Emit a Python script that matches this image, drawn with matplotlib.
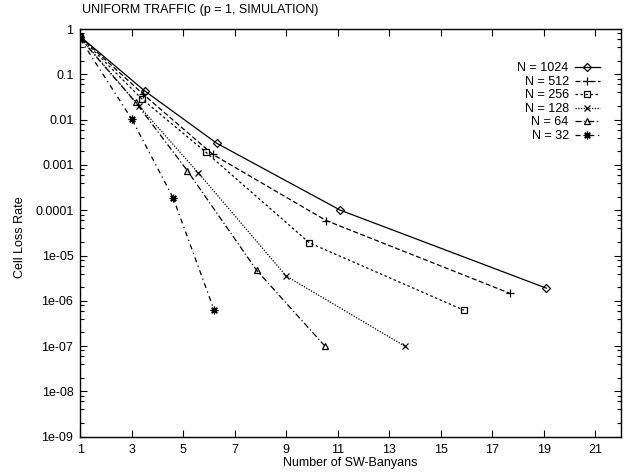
import numpy as np
import matplotlib
matplotlib.use("Agg")
import matplotlib.pyplot as plt
from matplotlib.ticker import LogLocator, FixedLocator, NullFormatter

# values
labels = ["N = 1024", "N = 512", "N = 256", "N = 128", "N = 64", "N = 32"]
x1024 = [1, 3.5, 6.3, 11.1, 19.1]
y1024 = [0.68, 0.043, 0.003, 1.0e-4, 1.9e-6]
x512 = [1, 3.45, 6.15, 10.55, 17.7]
y512 = [0.67, 0.036, 0.0017, 5.9e-5, 1.45e-6]
x256 = [1, 3.38, 5.88, 9.9, 15.9]
y256 = [0.66, 0.029, 0.0019, 1.9e-5, 6.2e-7]
x128 = [1, 3.28, 5.58, 9.0, 13.6]
y128 = [0.64, 0.020, 6.7e-4, 3.5e-6, 1.0e-7]
x64 = [1, 3.15, 5.16, 7.85, 10.5]
y64 = [0.62, 0.024, 7.4e-4, 4.7e-6, 1.0e-7]
x32 = [1, 3.0, 4.6, 6.2]
y32 = [0.60, 0.0102, 1.9e-4, 6.2e-7]

xticks = [1, 3, 5, 7, 9, 11, 13, 15, 17, 19, 21]
yticks = [1, 0.1, 0.01, 0.001, 0.0001, 1e-05, 1e-06, 1e-07, 1e-08, 1e-09]
ytick_labels = ["1", "0.1", "0.01", "0.001", "0.0001", "1e-05", "1e-06",
                "1e-07", "1e-08", "1e-09"]

plt.rcParams['font.family'] = ['Liberation Sans', 'DejaVu Sans']

fig = plt.figure(figsize=(6.34, 4.74), dpi=100)
ax = fig.add_axes([0.1267, 0.0787, 0.8528, 0.8601])

series = [
    (x1024, y1024, '-', 'D', 4),
    (x512, y512, (0, (4, 2)), '+', 5.5),
    (x256, y256, (0, (2, 2)), 's', 5),
    (x128, y128, (0, (1, 1.2)), 'x', 5),
    (x64, y64, (0, (5, 2, 1, 2)), '^', 5),
    (x32, y32, (0, (4, 3, 1, 3)), (8, 2, 0), 5.5),
]
for (xs, ys, ls, mk, ms), lab in zip(series, labels):
    ax.plot(xs, ys, color='black', lw=0.9, linestyle=ls, marker=mk,
            markersize=ms, markerfacecolor='none', markeredgecolor='black',
            markeredgewidth=0.9, label=lab)

ax.set_yscale('log')
ax.set_xlim(1, 22)
ax.set_ylim(1e-9, 1)
ax.xaxis.set_major_locator(FixedLocator(xticks))
ax.set_xticklabels([str(t) for t in xticks])
ax.set_yticks(yticks)
ax.set_yticklabels(ytick_labels)
ax.yaxis.set_minor_locator(LogLocator(base=10, subs=[2, 4, 6, 8], numticks=20))
ax.yaxis.set_minor_formatter(NullFormatter())

ax.tick_params(which='both', direction='in', top=True, right=True,
               labelsize=9, width=0.8)
ax.tick_params(which='major', length=5, pad=5)
ax.tick_params(which='minor', length=3)
for s in ax.spines.values():
    s.set_linewidth(1.0)

ax.set_xlabel("Number of SW-Banyans", fontsize=9)
ax.xaxis.set_label_coords(0.5, -0.051)
ax.set_ylabel("Cell Loss Rate", fontsize=9)
ax.yaxis.set_label_coords(-0.1, 0.49)

fig.text(0.129, 0.979, "UNIFORM TRAFFIC (p = 1, SIMULATION)", fontsize=9,
         ha='left', va='center')

ax.legend(loc='upper right', bbox_to_anchor=(0.961, 0.918), frameon=False,
          markerfirst=False, fontsize=9, handlelength=2.0,
          handletextpad=0.5, labelspacing=0.12, borderpad=0,
          borderaxespad=0)

fig.savefig("out.png", dpi=100)
